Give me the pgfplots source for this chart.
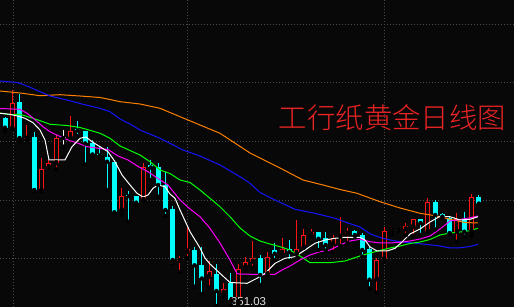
\documentclass[border=0pt]{standalone}
\usepackage{fontspec}
\setmainfont{Liberation Sans}
\newfontfamily\cjk{Noto Sans CJK SC}[UprightFont={* Light}]
\usepackage{pgfplots}
\usepackage{pgfplotstable}
\pgfplotsset{compat=1.18}
\definecolor{bg}{RGB}{8,8,8}
\definecolor{cred}{RGB}{255,20,20}
\definecolor{tred}{RGB}{235,35,35}
\definecolor{ccyan}{RGB}{0,255,255}
\definecolor{grd}{RGB}{80,72,72}
\definecolor{morange}{RGB}{255,128,0}
\definecolor{mblue}{RGB}{20,20,255}
\definecolor{mgreen}{RGB}{0,255,0}
\definecolor{mmag}{RGB}{255,0,255}
\definecolor{lbl}{RGB}{225,225,225}

% up (red) candles: index, open, high, low, close
\pgfplotstableread{
x o h l c
1 368.76 372.63 368.76 371.30
3 367.76 369.13 367.60 367.86
5 362.56 365.86 362.56 364.70
6 364.90 365.63 364.90 365.30
7 365.30 368.13 364.70 367.80
9 367.80 370.03 367.23 368.50
16 360.60 362.80 360.18 362.03
19 361.63 365.30 361.53 364.90
24 355.53 356.03 354.43 355.63
25 356.46 358.90 355.80 356.73
28 353.96 355.53 352.88 354.48
30 352.36 353.30 351.96 352.70
32 351.43 355.23 351.23 354.73
33 354.93 355.90 354.63 355.38
34 355.46 357.56 354.86 355.80
36 354.20 356.43 354.20 355.96
38 356.36 357.83 356.30 356.70
40 356.23 359.63 355.80 356.73
41 356.88 358.70 356.88 358.13
42 358.16 358.70 357.96 358.46
45 357.23 358.13 356.43 357.80
46 357.95 359.93 357.03 358.08
47 358.23 358.80 357.33 358.46
51 353.70 355.80 352.36 355.63
52 355.70 358.91 355.43 358.53
53 358.48 358.80 358.18 358.61
55 358.70 359.30 358.13 359.03
56 358.96 359.73 358.03 359.71
58 358.46 361.80 358.46 361.43
62 358.46 360.33 357.46 359.71
64 358.46 362.23 358.05 361.90
}\redtab

% down (cyan) candles
\pgfplotstableread{
x o h l c
-1 370.63 370.63 369.83 369.83
0 369.86 369.96 368.53 368.86
2 371.43 372.23 367.46 367.83
4 367.96 368.46 362.53 362.63
10 368.68 369.48 368.03 368.58
11 368.53 368.53 365.18 367.28
12 367.30 367.63 365.80 366.18
13 366.18 367.03 365.80 366.08
14 365.90 366.96 362.63 365.46
15 365.40 365.40 360.23 360.40
17 362.11 362.53 359.46 362.01
18 362.03 362.03 361.06 361.36
20 365.08 365.63 363.63 364.88
21 364.96 365.36 361.96 363.13
22 363.13 364.46 360.03 360.63
23 360.70 361.03 355.33 355.63
26 356.63 356.96 352.96 355.10
27 355.13 356.96 352.23 353.78
29 354.23 355.18 351.03 352.53
31 353.30 354.30 351.13 351.63
35 355.80 356.13 353.13 354.13
37 356.60 357.36 355.63 356.26
39 356.71 357.63 355.53 356.41
43 358.43 358.43 356.63 357.75
44 357.83 358.41 356.56 357.13
48 358.55 358.63 358.03 358.13
49 358.13 358.33 355.96 356.63
50 356.68 356.96 352.78 353.66
57 359.71 359.73 358.13 359.33
59 361.41 361.63 358.68 360.13
60 360.23 360.36 359.80 359.96
61 359.80 359.96 358.30 358.30
63 359.70 360.43 357.96 358.46
65 361.90 362.13 361.25 361.25
}\cyantab

% flat (white) candles
\pgfplotstableread{
x o h l c
8 367.88 368.63 366.96 367.88
54 358.60 358.60 358.60 358.60
}\whitetab

\begin{document}
\begin{tikzpicture}
\begin{axis}[
  width=514bp, height=307bp, scale only axis,
  xmin=-0.686, xmax=69.82, ymin=350.93, ymax=381.63,
  axis background/.style={fill=bg},
  axis line style={draw=none},
  xtick={1.1,25.1,52}, ytick={379.13,373.33,367.43,361.53,355.73},
  xticklabels={}, yticklabels={}, major tick length=0pt,
  grid=major, grid style={grd, dash pattern=on 1bp off 2bp, line width=1bp},
  clip=true,
]
% ---- red candles
\addplot[forget plot, only marks, mark=none, error bars/.cd, y dir=plus, y explicit, error mark=none,
  error bar style={draw=cred, solid, line width=1bp}]
  table[x=x, y=l, y error plus expr=\thisrow{h}-\thisrow{l}] {\redtab};
\addplot[forget plot, only marks, mark=none, error bars/.cd, y dir=plus, y explicit, error mark=none,
  error bar style={draw=cred, solid, line width=5bp}]
  table[x=x, y=o, y error plus expr=\thisrow{c}-\thisrow{o}] {\redtab};
\addplot[forget plot, only marks, mark=none, error bars/.cd, y dir=plus, y explicit, error mark=none,
  error bar style={draw=bg, solid, line width=3bp}]
  table[x=x, y expr=\thisrow{o}+0.1, y error plus expr={max(\thisrow{c}-\thisrow{o}-0.2,0)}] {\redtab};
% ---- cyan candles
\addplot[forget plot, only marks, mark=none, error bars/.cd, y dir=plus, y explicit, error mark=none,
  error bar style={draw=ccyan, solid, line width=1bp}]
  table[x=x, y=l, y error plus expr=\thisrow{h}-\thisrow{l}] {\cyantab};
\addplot[forget plot, only marks, mark=none, error bars/.cd, y dir=plus, y explicit, error mark=none,
  error bar style={draw=ccyan, solid, line width=5bp}]
  table[x=x, y=c, y error plus expr=\thisrow{o}-\thisrow{c}] {\cyantab};
% ---- white candles
\addplot[forget plot, only marks, mark=none, error bars/.cd, y dir=plus, y explicit, error mark=none,
  error bar style={draw=white, solid, line width=1bp}]
  table[x=x, y=l, y error plus expr=\thisrow{h}-\thisrow{l}] {\whitetab};
\addplot[forget plot, only marks, mark=none, error bars/.cd, y dir=plus, y explicit, error mark=none,
  error bar style={draw=white, solid, line width=5bp}]
  table[x=x, y expr=\thisrow{o}-0.05, y error plus expr=0.1] {\whitetab};

% ---- moving averages
\addplot[morange, line width=1bp, mark=none] coordinates {
(-0.69,372.53) (2.06,372.33) (4.80,372.06) (7.54,372.16) (10.29,372.03) (13.03,371.88)
(14.40,371.68) (15.78,371.46) (18.52,371.23) (21.26,370.80) (24.01,369.96) (26.75,369.13)
(29.49,368.30) (33.61,366.33) (34.98,365.83) (37.72,364.83) (40.88,363.63) (43.62,363.13)
(45.95,362.68) (48.29,362.30) (51.44,361.46) (54.18,360.83) (56.93,360.30) (59.26,360.03)
(61.04,359.70) (63.10,359.38) (64.88,359.33)};
\addplot[mblue, line width=1bp, mark=none] coordinates {
(-0.69,373.53) (1.37,373.40) (2.06,373.30) (3.43,372.90) (4.80,372.46) (6.17,372.03)
(8.50,371.63) (10.70,371.20) (13.03,370.80) (14.40,370.46) (15.78,369.73) (17.15,369.23)
(18.52,368.63) (21.26,367.80) (24.42,366.63) (26.75,366.03) (29.49,365.13) (32.24,363.96)
(33.61,363.30) (34.98,362.38) (37.04,361.63) (39.78,360.70) (42.52,360.30) (45.27,359.80)
(46.64,359.43) (48.70,358.93) (50.07,358.25) (51.44,357.88) (52.81,357.63) (54.18,357.46)
(56.93,357.26) (59.67,357.03) (61.04,356.83) (62.69,356.86) (64.06,357.03) (64.88,357.20)};
\addplot[mgreen, line width=1bp, mark=none] coordinates {
(-0.69,370.33) (0.69,370.16) (2.06,370.20) (3.84,369.80) (5.21,369.46) (6.17,369.20)
(8.50,369.08) (10.29,368.88) (11.66,368.60) (13.03,368.30) (14.40,367.80) (15.78,367.03)
(17.15,366.58) (18.52,366.13) (19.89,365.46) (21.26,364.63) (22.63,364.28) (24.01,363.63)
(25.38,363.38) (26.75,362.63) (28.12,361.80) (29.49,360.96) (30.86,359.96) (32.24,358.83)
(33.61,358.03) (34.98,357.53) (36.35,357.23) (37.72,356.96) (39.09,356.63) (40.47,356.03)
(41.84,355.36) (44.58,355.36) (46.64,355.53) (48.70,356.03) (50.07,356.33) (51.44,356.58)
(52.81,356.83) (54.18,357.03) (55.56,357.28) (56.93,357.43) (58.30,357.68) (59.67,358.13)
(61.04,358.33) (62.41,358.43) (63.79,358.56) (64.88,358.80)};
\addplot[mmag, line width=1bp, mark=none] coordinates {
(-0.69,370.78) (2.06,370.70) (3.02,370.30) (3.84,369.83) (5.21,368.96) (6.17,368.46)
(6.58,368.30) (8.50,367.68) (10.29,367.23) (11.25,366.96) (13.03,366.78) (14.13,366.68)
(15.50,366.03) (16.87,365.63) (18.24,364.99) (19.62,364.46) (20.99,363.78) (22.36,363.13)
(22.63,362.88) (24.01,361.63) (25.38,360.73) (26.75,359.96) (28.12,358.80) (29.49,357.33)
(30.86,355.63) (31.82,354.28) (32.24,354.21) (34.98,354.20) (37.04,354.20) (38.00,354.63)
(39.09,355.03) (40.47,355.63) (41.84,356.13) (43.21,356.46) (44.58,356.63) (45.95,357.13)
(47.33,357.53) (48.70,357.70) (50.07,357.46) (51.44,357.33) (52.81,357.33) (54.18,357.41)
(55.56,357.53) (56.93,357.73) (58.30,358.03) (59.67,358.73) (61.04,359.53) (62.41,359.68)
(63.79,359.85) (64.88,360.03)};
\addplot[white, line width=1bp, mark=none] coordinates {
(-0.69,370.30) (0.69,370.20) (2.06,369.96) (2.74,369.80) (3.84,369.36) (4.80,368.63)
(5.49,367.63) (6.04,365.63) (7.13,365.63) (8.23,365.63) (9.19,366.96) (10.29,367.80)
(11.11,367.93) (11.93,367.46) (13.03,366.96) (14.13,366.46) (15.09,365.46) (16.05,364.13)
(17.15,363.13) (18.11,362.30) (18.93,361.93) (19.62,362.13) (20.30,362.80) (20.99,363.13)
(21.95,362.96) (22.63,362.23) (23.32,361.80) (24.01,360.63) (25.38,358.46) (26.75,356.83)
(27.43,355.83) (28.12,355.23) (29.49,354.30) (30.86,353.38) (33.20,353.30) (34.57,353.80)
(35.67,354.30) (37.04,355.30) (38.41,355.80) (39.78,355.96) (41.15,356.63) (42.52,357.30)
(43.90,357.63) (45.27,357.80) (46.64,357.90) (48.70,357.90) (49.38,357.63) (50.07,356.93)
(51.03,356.53) (52.40,356.53) (53.50,356.80) (54.46,357.43) (55.56,358.23) (56.93,358.73)
(58.30,359.43) (59.67,360.00) (61.04,359.96) (62.41,359.63) (63.79,359.70) (64.88,359.96)};

\node[anchor=west, inner sep=0.6bp, fill=bg, text=lbl, font=\fontsize{11.5}{12}\selectfont] at (axis cs:30.9,351.45) {351.03};
\node[anchor=center, inner sep=0pt, text=tred, font=\cjk\fontsize{28.5}{30}\selectfont] at (axis cs:53.15,369.83) {工行纸黄金日线图};
\end{axis}
\pgfresetboundingbox
\path[use as bounding box] (current axis.south west) rectangle (current axis.north east);
\end{tikzpicture}
\end{document}
